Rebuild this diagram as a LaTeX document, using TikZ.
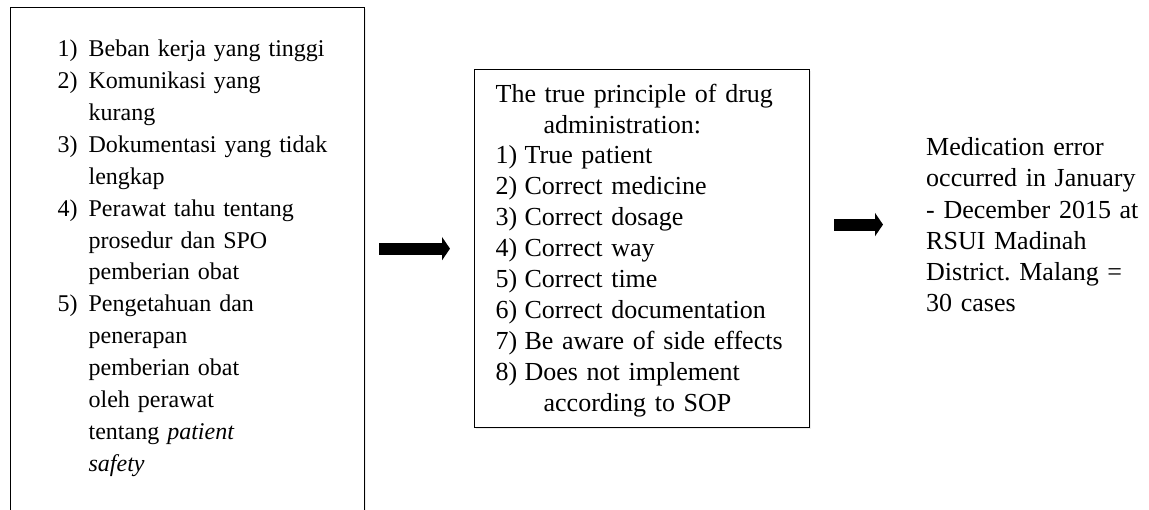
\documentclass[tikz,border=0pt]{standalone}
\usepackage{fontspec}
\setmainfont{Liberation Serif}
\usepackage{xcolor}
\usepackage{tikz}
\usetikzlibrary{arrows.meta, shadows}
\newcommand*{\Num}[2][31pt]{\makebox[#1][l]{#2}}
\newcommand*{\Gap}[1][31pt]{\hspace*{#1}}
\definecolor{WHITE}{HTML}{FFFFFF}
\definecolor{BLACK}{HTML}{000000}
\frenchspacing

\begin{document}
\begin{tikzpicture}[x=1pt, y=-1pt,
    box/.style={draw=BLACK, line width=1.3pt, fill=WHITE, inner sep=0pt, align=left, anchor=north west,
        drop shadow={opacity=0.15, shadow xshift=1.5pt, shadow yshift=-1.5pt}},
    bigarrow/.style={BLACK, line width=12pt, -{Triangle[length=8pt, width=23pt]}}]
    \useasboundingbox (0,0) rectangle (1149,509);
    % Left box
    \node[box, text width=354pt, text height=49pt, text depth=481pt, font=\fontsize{24}{31.9}\selectfont] (causes) at (10,7) {\leftskip=47pt
        \Num{1)}Beban kerja yang tinggi\\
        \Num{2)}Komunikasi yang\\
        \Gap kurang\\
        \Num{3)}Dokumentasi yang tidak\\
        \Gap lengkap\\
        \Num{4)}Perawat tahu tentang\\
        \Gap prosedur dan SPO\\
        \Gap pemberian obat\\
        \Num{5)}Pengetahuan dan\\
        \Gap penerapan\\
        \Gap pemberian obat\\
        \Gap oleh perawat\\
        \Gap tentang \textit{patient}\\
        \Gap\textit{safety}\par};
    % Middle box
    \node[box, text width=335pt, text height=32.5pt, text depth=325.5pt, font=\fontsize{26}{30.9}\selectfont] (rules) at (474,69) {\leftskip=21pt
        The true principle of drug\\
        \Gap[48pt]administration:\\
        \Num[29pt]{1)}True patient\\
        \Num[29pt]{2)}Correct medicine\\
        \Num[29pt]{3)}Correct dosage\\
        \Num[29pt]{4)}Correct way\\
        \Num[29pt]{5)}Correct time\\
        \Num[29pt]{6)}Correct documentation\\
        \Num[29pt]{7)}Be aware of side effects\\
        \Num[29pt]{8)}Does not implement\\
        \Gap[48pt]according to SOP\par};
    % Right text
    \node[align=left, anchor=north west, inner sep=0pt, text width=220pt, text height=18.5pt, font=\fontsize{26}{31.2}\selectfont] (result) at (926,137) {Medication error\\
        occurred in January\\
        - December 2015 at\\
        RSUI Madinah\\
        District. Malang =\\
        30 cases};
    % Arrows
    \draw[bigarrow, shorten <=14pt, shorten >=24pt] (causes.east |- rules.west) -- (rules.west);
    \draw[bigarrow, shorten <=24pt, shorten >=43pt] (rules.east |- result.west) -- (result.west);
\end{tikzpicture}
\end{document}
